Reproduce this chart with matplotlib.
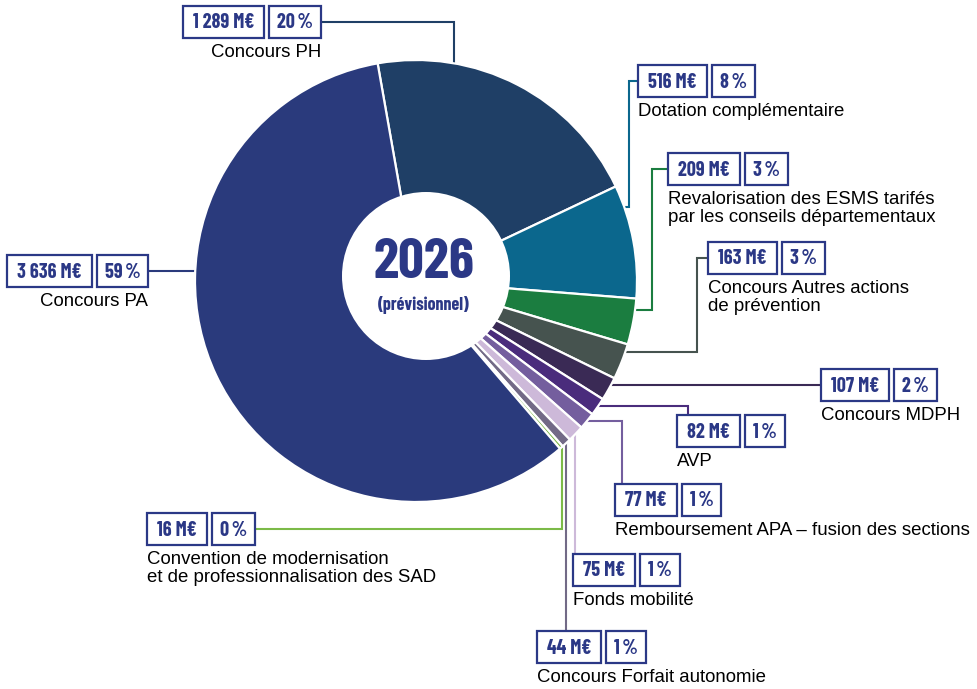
import matplotlib
matplotlib.use("Agg")
import matplotlib.pyplot as plt
from matplotlib.patches import Rectangle, Circle
import numpy as np

# data
names = ["Concours PH", "Dotation complémentaire",
         "Revalorisation des ESMS tarifés\npar les conseils départementaux",
         "Concours Autres actions\nde prévention", "Concours MDPH", "AVP",
         "Remboursement APA – fusion des sections", "Fonds mobilité",
         "Concours Forfait autonomie",
         "Convention de modernisation\net de professionnalisation des SAD",
         "Concours PA"]
values = [1289, 516, 209, 163, 107, 82, 77, 75, 44, 16, 3636]
pcts = ["20", "8", "3", "3", "2", "1", "1", "1", "1", "0", "59"]
colors = ["#1f3f66", "#0b678d", "#1b7d40", "#46534f", "#3a2a55", "#4a2c7c",
          "#745e9e", "#cdb9d9", "#726a86", "#7cba48", "#2a3a7c"]

navy = "#2b3886"
cx, cy, R = 416, 281, 221
hole = (426, 276, 84)
cond = ["Barlow Condensed", "Archivo Narrow", "DejaVu Sans"]

# label layout (pixel coords, y down): box left, box top, text align
boxes = [(183, 6, "right"), (638, 65, "left"), (668, 153, "left"),
         (708, 242, "left"), (821, 369, "left"), (677, 415, "left"),
         (615, 484, "left"), (573, 554, "left"), (537, 631, "left"),
         (147, 513, "left"), (7, 255, "right")]
BH = 32

fig = plt.figure(figsize=(9.78, 6.89), dpi=100)
ax = fig.add_axes([0, 0, 1, 1])
# y axis is inverted below, so counterclock=True turns clockwise on screen
ax.pie(values, colors=colors, startangle=-100, counterclock=True, radius=R,
       center=(cx, cy),
       wedgeprops=dict(edgecolor="white", linewidth=1.6, zorder=3))
ax.add_patch(Circle(hole[:2], hole[2], fc="white", ec="none", zorder=4))
ax.set_xlim(0, 978)
ax.set_ylim(689, 0)
ax.set_aspect("equal")
ax.axis("off")


def edge_x(y, side=1, depth=10):
    return cx + side * (np.sqrt(R ** 2 - (y - cy) ** 2) - depth)


def edge_y(x, side=1, depth=10):
    return cy + side * (np.sqrt(R ** 2 - (x - cx) ** 2) - depth)


renderer = fig.canvas.get_renderer()
box_font = dict(family=cond, weight="bold", fontsize=14.5, color=navy)
extents = []
for i, (bx, by, al) in enumerate(boxes):
    lab = "{:,}".format(values[i]).replace(",", " ") + " M€"
    x = bx
    spans = []
    for s, pad in ((lab, 10), (pcts[i] + "\u2009%", 8)):
        t = ax.text(x, by + BH / 2 + 1, s, ha="left", va="center", zorder=6, **box_font)
        w = t.get_window_extent(renderer).width
        t.set_x(x + pad)
        ax.add_patch(Rectangle((x, by), w + 2 * pad, BH, fc="white", ec=navy, lw=1.6, zorder=5))
        spans.append((x, x + w + 2 * pad))
        x = x + w + 2 * pad + 5
    extents.append(spans)
    tx = spans[0][0] if al == "left" else spans[1][1]
    ax.text(tx, by + BH + 6, names[i], ha=al, va="top", fontsize=13.4,
            family=["Liberation Sans", "DejaVu Sans"], color="black",
            linespacing=1.1, zorder=6)

# leader lines (drawn under the wedges)
ym = [b[1] + BH / 2 for b in boxes]
e = extents
routes = [
    [(e[0][1][1], ym[0]), (454, ym[0]), (454, edge_y(454, -1))],
    [(e[1][0][0], ym[1]), (629, ym[1]), (629, 207), (edge_x(207), 207)],
    [(e[2][0][0], ym[2]), (652, ym[2]), (652, 310), (edge_x(310), 310)],
    [(e[3][0][0], ym[3]), (697, ym[3]), (697, 352), (edge_x(352), 352)],
    [(e[4][0][0], ym[4]), (edge_x(ym[4]), ym[4])],
    [(688, boxes[5][1]), (688, 406), (edge_x(406), 406)],
    [(622, boxes[6][1]), (622, 421), (edge_x(421), 421)],
    [(575, boxes[7][1]), (575, edge_y(575))],
    [(566, boxes[8][1]), (566, edge_y(566))],
    [(e[9][1][1], ym[9]), (561.5, ym[9]), (561.5, edge_y(561.5))],
    [(e[10][1][1], ym[10]), (edge_x(ym[10], -1), ym[10])],
]
for i, pts in enumerate(routes):
    xs, ys = zip(*pts)
    ax.plot(xs, ys, color=colors[i], lw=1.5, zorder=2, solid_joinstyle="miter")

# centre text
ax.text(hole[0] - 2, 263, "2026", ha="center", va="center", fontsize=41, weight="bold",
        family=cond, color=navy, zorder=6)
ax.text(hole[0] - 2, 305, "(prévisionnel)", ha="center", va="center", fontsize=13,
        weight="bold", family=cond, color=navy, zorder=6)

fig.savefig("out.png", dpi=100)
